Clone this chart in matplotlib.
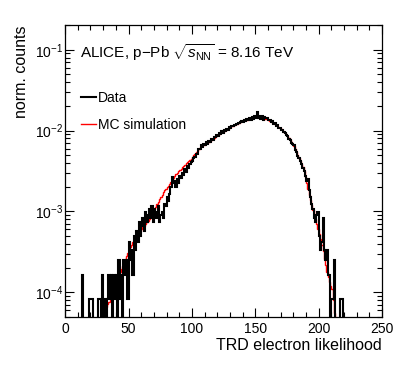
"""
TRD electron likelihood, data vs MC (log scale, ROOT-like style)
"""
import numpy as np
import matplotlib
matplotlib.use("Agg")
from matplotlib import pyplot as plt
from matplotlib.ticker import LogLocator, MultipleLocator, NullFormatter

plt.rcParams['font.family'] = ['Liberation Sans', 'DejaVu Sans']
plt.rcParams['mathtext.fontset'] = 'custom'
plt.rcParams['mathtext.rm'] = 'Liberation Sans'
plt.rcParams['mathtext.it'] = 'Liberation Sans:italic'
plt.rcParams['mathtext.sf'] = 'Liberation Sans'

# data: raw counts per unit bin, starting at likelihood 0
data_counts = [
    0, 0, 0, 0, 0, 0, 0, 0, 0, 0, 0, 0, 0, 2, 0, 0, 0, 0, 0, 1,
    1, 1, 0, 0, 0, 0, 1, 1, 0, 2, 0, 1, 0, 1, 2, 1, 2, 0, 2, 1,
    2, 0, 3, 1, 2, 0, 3, 2, 3, 1, 5, 3, 4, 2, 6, 4, 7, 5, 9, 6,
    8, 10, 7, 12, 9, 11, 13, 10, 14, 9, 13, 12, 10, 14, 9, 11, 12, 10, 15, 14,
    18, 16, 20, 24, 32, 27, 29, 24, 30, 27, 33, 31, 36, 34, 40, 37, 44, 42, 47, 49,
    50, 55, 56, 62, 61, 72, 71, 79, 76, 83, 79, 87, 82, 90, 87, 95, 92, 99, 100, 106,
    104, 112, 108, 118, 112, 123, 118, 127, 124, 133, 129, 137, 136, 143, 143, 147, 148, 151, 152, 159,
    155, 165, 157, 168, 161, 172, 165, 177, 168, 180, 170, 205, 174, 185, 169, 180, 165, 176, 174, 170,
    163, 165, 155, 157, 146, 149, 137, 141, 129, 131, 124, 122, 115, 113, 105, 103, 95, 93, 85, 83,
    80, 70, 66, 59, 55, 50, 46, 41, 38, 33, 29, 30, 22, 18, 15, 13, 10, 9, 11, 12,
    6, 4, 5, 10, 4, 3, 4, 2, 2, 0, 1, 1, 3, 0, 0, 0, 0, 1, 1, 0,
]
count_weight = 8.3e-5  # normalisation per count

# MC simulation, normalised, in units of 1e-5, unit bins from 0 to 250
mc_values = [
    0, 0, 0, 0, 0, 0, 0, 0, 0, 0, 0, 0, 0, 0, 0, 0, 0, 0, 0, 0,
    0, 0, 0, 0, 0, 0, 0, 0, 3, 4.5, 5.2, 6.0, 6.5, 7.1, 7.6, 8.0, 8.5, 8.9, 10.0, 11.3,
    12.6, 14.3, 16.2, 17.8, 19.5, 21.4, 23.5, 25.7, 28, 30.5, 33, 36, 39, 42, 44.5, 47, 50, 52.5, 55, 58,
    61, 64, 67, 70, 74, 77, 81, 87, 93, 100, 107, 115, 123, 132, 141, 151, 162, 174, 182, 191,
    200, 209, 219, 229, 243, 257, 272, 287, 303, 320, 330, 339, 352, 365, 379, 393, 407, 420, 434, 447,
    470, 492, 515, 540, 565, 598, 631, 643, 656, 670, 683, 697, 710, 724, 746, 770, 793, 817, 842, 866,
    891, 910, 930, 950, 970, 990, 1010, 1030, 1055, 1078, 1100, 1124, 1148, 1168, 1190, 1210, 1230, 1252, 1274, 1296,
    1318, 1334, 1350, 1366, 1383, 1400, 1415, 1430, 1447, 1463, 1479, 1468, 1457, 1446, 1435, 1424, 1413, 1402, 1391, 1380,
    1350, 1320, 1290, 1260, 1230, 1202, 1170, 1138, 1108, 1077, 1047, 1006, 966, 928, 890, 851, 805, 762, 722, 683,
    646, 590, 540, 494, 455, 417, 385, 352, 318, 270, 225, 190, 160, 138, 120, 105, 92, 80, 70, 60,
    52, 46, 38, 32, 26, 21.5, 17.8, 15.5, 13.5, 12, 11, 8, 5.6, 3, 0, 0, 0, 0, 0, 0,
    0, 0, 0, 0, 0, 0, 0, 0, 0, 0, 0, 0, 0, 0, 0, 0, 0, 0, 0, 0,
    0, 0, 0, 0, 0, 0, 0, 0, 0, 0,
]

data = np.array(data_counts, dtype=float) * count_weight
mc = np.array(mc_values, dtype=float) * 1e-5
data_edges = np.arange(len(data) + 1)
mc_edges = np.arange(len(mc) + 1)

fig = plt.figure(figsize=(4.07, 3.73), dpi=100)
ax = fig.add_axes([0.160, 0.151, 0.779, 0.781])

# zero bins sit on the lower frame, as in ROOT
ax.stairs(np.where(mc > 0, mc, 1e-12), mc_edges, color='#ff0000', lw=1.0,
          label='MC simulation', zorder=2)
ax.stairs(np.where(data > 0, data, 1e-12), data_edges, color='black', lw=1.5,
          label='Data', zorder=3)

ax.set_yscale('log')
ax.set_xlim(0, 250)
ax.set_ylim(5e-5, 0.2)

ax.xaxis.set_major_locator(MultipleLocator(50))
ax.xaxis.set_minor_locator(MultipleLocator(10))
ax.yaxis.set_major_locator(LogLocator(base=10))
ax.yaxis.set_minor_locator(LogLocator(base=10, subs=range(2, 10)))
ax.yaxis.set_minor_formatter(NullFormatter())

ax.tick_params(which='both', direction='in', top=True, right=True,
               labelsize=10, width=0.8)
ax.tick_params(which='major', length=6.5)
ax.tick_params(which='minor', length=3.5)
ax.tick_params(axis='x', pad=3.5)
ax.tick_params(axis='y', pad=1.5)
for s in ax.spines.values():
    s.set_linewidth(0.9)

ax.set_xlabel('TRD electron likelihood', fontsize=11.5, loc='right', labelpad=2)
ax.set_ylabel('norm. counts', fontsize=11.5, loc='top', labelpad=4)

ax.text(0.047, 0.889, r'ALICE, p$-$Pb $\sqrt{s_{\rm NN}}$ = 8.16 TeV',
        transform=ax.transAxes, fontsize=11, va='baseline', ha='left')

handles, labels = ax.get_legend_handles_labels()
ax.legend(handles[::-1], labels[::-1], loc='upper left',
          bbox_to_anchor=(0.05, 0.775), frameon=False, fontsize=10,
          handlelength=1.1, handletextpad=0.15, labelspacing=0.95,
          borderpad=0, borderaxespad=0)

fig.savefig('out.png', dpi=100)
